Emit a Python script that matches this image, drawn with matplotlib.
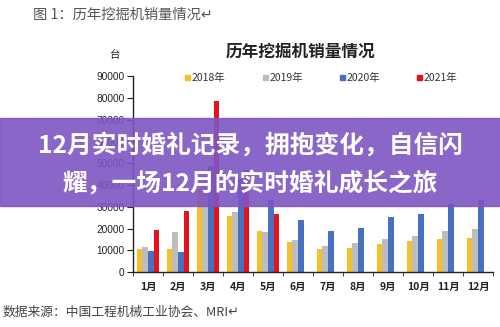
import matplotlib
matplotlib.use("Agg")
import matplotlib.pyplot as plt
from matplotlib.patches import Rectangle
import numpy as np

plt.rcParams['font.family'] = ['Noto Sans CJK SC', 'DejaVu Sans']

months = ['1月', '2月', '3月', '4月', '5月', '6月', '7月', '8月', '9月', '10月', '11月', '12月']
series_names = ['2018年', '2019年', '2020年', '2021年']
sales_2018 = [10400, 10800, 38000, 26000, 19000, 13700, 10800, 11100, 13000, 14500, 15200, 15700]
sales_2019 = [11300, 18400, 44000, 27500, 18400, 14600, 11900, 13200, 15200, 16600, 18900, 19600]
sales_2020 = [9500, 9000, 49000, 43000, 33000, 24000, 18700, 20200, 25200, 26800, 31500, 33000]
sales_2021 = [19300, 28000, 78500, 47000, 26800]
y_ticks = [0, 10000, 20000, 30000, 40000, 50000, 60000, 70000, 80000, 90000]

colors = ['#F3C12C', '#BDBDBD', '#4770C0', '#E3121B']

W, H = 500, 327
fig = plt.figure(figsize=(W / 100, H / 100), dpi=100)
fig.patch.set_facecolor('white')


def fx(x):
    return x / W


def fy(y):
    return 1 - y / H


ax = fig.add_axes([fx(133), fy(272), 360 / W, (272 - 76.5) / H])
ax.set_facecolor('white')

bw = 0.19
all_series = [sales_2018, sales_2019, sales_2020, sales_2021]
for i, (vals, c) in enumerate(zip(all_series, colors)):
    x = np.arange(len(vals)) + (i - 1.5) * bw
    ax.bar(x, vals, width=bw, color=c, linewidth=0)

ax.set_xlim(-0.5, 11.5)
ax.set_ylim(0, 90000)
ax.set_yticks(y_ticks)
ax.set_yticklabels([str(v) for v in y_ticks], fontsize=7.3, color='#222222',
                   family=['Liberation Sans', 'DejaVu Sans'])
ax.set_xticks(np.arange(12))
ax.set_xticklabels(months, fontsize=7.5, color='#222222', fontweight='bold')
ax.set_xticks(np.arange(-0.5, 12, 1), minor=True)
ax.tick_params(axis='x', which='major', length=0, pad=7)
ax.tick_params(axis='x', which='minor', length=3, direction='out', color='#222222')
ax.tick_params(axis='y', length=4, direction='out', color='#222222', pad=2)
for s in ['top', 'right']:
    ax.spines[s].set_visible(False)
for s in ['left', 'bottom']:
    ax.spines[s].set_color('#222222')
    ax.spines[s].set_linewidth(1.0)

# headings
fig.text(fx(33), fy(15), '图 1：历年挖掘机销量情况↵', fontsize=10.3, color='#555555',
         ha='left', va='center')
fig.text(fx(115), fy(55), '台', fontsize=7.5, color='#222222', ha='center', va='center')
fig.text(fx(300), fy(52), '历年挖掘机销量情况', fontsize=12, fontweight='bold',
         color='#222222', ha='center', va='center')

# legend
leg_x = [187, 265, 342, 419]
for lx, name, c in zip(leg_x, series_names, colors):
    fig.patches.append(Rectangle((fx(lx - 2), fy(80)), 4.5 / W, 4.5 / H,
                                 transform=fig.transFigure, color=c, zorder=5))
    fig.text(fx(lx + 5), fy(77.5), name, fontsize=7.5, color='#333333',
             ha='left', va='center')

# source note
fig.text(fx(3), fy(312), '数据来源：中国工程机械工业协会、MRI↵', fontsize=9.2, color='#444444',
         ha='left', va='center')

# banner
fig.patches.append(Rectangle((0, fy(206)), 1, (206 - 118) / H, transform=fig.transFigure,
                             color='#7E55C3', alpha=0.9, zorder=10))
fig.text(0.5, fy(145), '12月实时婚礼记录，拥抱变化，自信闪', fontsize=17.8, fontweight='bold',
         color='white', ha='center', va='center', zorder=11)
fig.text(0.5, fy(183), '耀，一场12月的实时婚礼成长之旅', fontsize=17.8, fontweight='bold',
         color='white', ha='center', va='center', zorder=11)

fig.savefig('out.png', dpi=100, facecolor='white')
